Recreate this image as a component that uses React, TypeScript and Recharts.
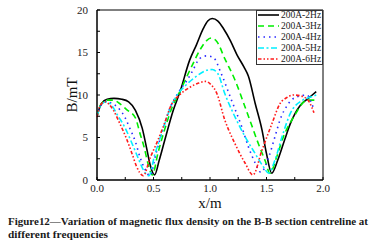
import React from 'react';
import { LineChart, Line, XAxis, YAxis, Legend, ReferenceArea } from 'recharts';

const FONT = '"Liberation Serif", "Times New Roman", serif';

// x positions (m) and flux density (mT), one pair per frequency
const x2Hz = [0, 0.04, 0.09, 0.15, 0.22, 0.28, 0.34, 0.4, 0.44, 0.47, 0.51, 0.55, 0.6, 0.675, 0.735, 0.82, 0.88, 0.94, 0.98, 1.02, 1.07, 1.12, 1.18, 1.24, 1.3, 1.34, 1.4, 1.46, 1.5, 1.546, 1.6, 1.66, 1.71, 1.8, 1.87, 1.94];
const b2Hz = [7.6, 9.0, 9.5, 9.6, 9.5, 9.2, 8.2, 6.1, 3.7, 1.8, 0.6, 2.3, 4.7, 8.2, 10.4, 14.1, 15.9, 17.8, 18.7, 19.0, 18.7, 17.8, 16.4, 14.7, 13.3, 12.2, 9.0, 5.9, 3.1, 0.8, 2.35, 4.7, 6.6, 8.8, 9.6, 10.4];

const x3Hz = [0, 0.04, 0.09, 0.14, 0.2, 0.26, 0.34, 0.38, 0.42, 0.45, 0.49, 0.54, 0.6, 0.66, 0.73, 0.8, 0.85, 0.92, 0.97, 1.01, 1.06, 1.13, 1.22, 1.31, 1.37, 1.43, 1.49, 1.53, 1.59, 1.65, 1.74, 1.86, 1.94];
const b3Hz = [7.5, 9.0, 9.4, 9.4, 9.0, 8.3, 7.3, 5.5, 3.7, 2.0, 0.6, 3.2, 6.0, 8.4, 10.3, 12.3, 13.7, 15.5, 16.4, 16.7, 16.3, 14.3, 11.8, 8.6, 6.4, 4.2, 2.2, 0.8, 2.7, 5.1, 7.4, 9.4, 9.4];

const x4Hz = [0, 0.04, 0.08, 0.12, 0.16, 0.25, 0.29, 0.34, 0.38, 0.42, 0.47, 0.52, 0.58, 0.65, 0.72, 0.8, 0.84, 0.91, 0.97, 1.03, 1.1, 1.19, 1.28, 1.34, 1.4, 1.45, 1.52, 1.575, 1.63, 1.68, 1.72, 1.8, 1.86, 1.89, 1.92];
const b4Hz = [7.5, 8.9, 9.2, 9.1, 8.8, 7.3, 6.1, 4.5, 2.7, 1.4, 0.5, 3.0, 5.8, 8.6, 10.3, 11.8, 12.7, 14.3, 14.6, 14.4, 12.5, 9.4, 6.3, 3.9, 2.0, 0.9, 2.7, 5.1, 7.45, 8.7, 9.4, 9.9, 10.0, 9.3, 8.3];

const x5Hz = [0, 0.04, 0.08, 0.115, 0.19, 0.25, 0.31, 0.365, 0.41, 0.46, 0.51, 0.58, 0.65, 0.72, 0.79, 0.89, 0.97, 1.02, 1.07, 1.13, 1.22, 1.31, 1.4, 1.47, 1.52, 1.575, 1.64, 1.71, 1.82, 1.88, 1.94];
const b5Hz = [7.5, 8.9, 9.2, 9.0, 7.45, 6.1, 4.3, 2.55, 1.2, 0.5, 2.9, 5.8, 8.5, 10.2, 11.2, 12.3, 12.9, 13.0, 12.5, 10.2, 7.45, 5.1, 3.1, 1.6, 0.8, 2.35, 5.2, 7.8, 9.4, 9.7, 10.0];

const x6Hz = [0, 0.03, 0.07, 0.145, 0.2, 0.26, 0.31, 0.35, 0.41, 0.47, 0.53, 0.59, 0.66, 0.73, 0.82, 0.9, 0.96, 1.01, 1.06, 1.13, 1.22, 1.31, 1.38, 1.46, 1.55, 1.62, 1.68, 1.74, 1.8, 1.86, 1.9, 1.92];
const b6Hz = [7.4, 8.8, 9.2, 8.2, 6.7, 4.9, 3.1, 1.6, 0.5, 2.6, 4.4, 6.4, 8.9, 10.0, 10.9, 11.4, 11.6, 11.2, 10.2, 7.1, 4.3, 2.0, 0.6, 3.5, 6.7, 9.0, 9.7, 10.0, 9.9, 9.5, 8.6, 7.9];

const xTicks = [0, 0.25, 0.5, 0.75, 1, 1.25, 1.5, 1.75, 2];
const yTicks = [0, 2.5, 5, 7.5, 10, 12.5, 15, 17.5, 20];

const toPoints = (xs: number[], ys: number[]) => xs.map((x, i) => ({ x, y: ys[i] }));

const series = [
  { name: '200A-2Hz', data: toPoints(x2Hz, b2Hz), color: '#000000', dash: undefined },
  { name: '200A-3Hz', data: toPoints(x3Hz, b3Hz), color: '#00ee00', dash: '6 4' },
  { name: '200A-4Hz', data: toPoints(x4Hz, b4Hz), color: '#2a2aff', dash: '1.5 4' },
  { name: '200A-5Hz', data: toPoints(x5Hz, b5Hz), color: '#00f0ff', dash: '6 2.5 2 2.5' },
  { name: '200A-6Hz', data: toPoints(x6Hz, b6Hz), color: '#ff1a1a', dash: '3.5 2 1.5 2 1.5 2' },
];

function FreqLegend() {
  return (
    <div style={{ width: 67, height: 55, border: '1px solid #333', boxSizing: 'border-box', background: '#fff' }}>
      <svg width={65} height={53} style={{ display: 'block' }}>
        {series.map((s, i) => {
          const y = 4 + i * 11;
          return (
            <g key={s.name}>
              <line x1={1} x2={22} y1={y} y2={y} stroke={s.color} strokeWidth={1.6} strokeDasharray={s.dash} />
              <text x={24} y={y} dominantBaseline="central" fontSize={9.5} fontFamily={FONT} fill="#222">
                {s.name}
              </text>
            </g>
          );
        })}
      </svg>
    </div>
  );
}

export default function App() {
  return (
    <div style={{ position: 'relative', width: 385, height: 248, background: '#fff' }}>
      <style>{'body{margin:0}'}</style>
      <LineChart width={385} height={216} margin={{ top: 10, right: 62, left: 0, bottom: 6 }}>
        <XAxis
          type="number"
          dataKey="x"
          domain={[0, 2]}
          ticks={xTicks}
          interval={0}
          tickSize={-3}
          tickMargin={7}
          height={30}
          stroke="#000"
          tick={{ fill: '#222', fontSize: 11, fontFamily: FONT }}
          tickFormatter={(v: number) => (v % 0.5 === 0 ? v.toFixed(1) : '')}
          label={{ value: 'x/m', position: 'insideBottom', offset: 2, style: { fontSize: 15, fill: '#111', fontFamily: FONT } }}
        />
        <YAxis
          type="number"
          domain={[0, 20]}
          ticks={yTicks}
          interval={0}
          tickSize={-3}
          tickMargin={12}
          width={97}
          stroke="#000"
          tick={{ fill: '#222', fontSize: 11, fontFamily: FONT }}
          tickFormatter={(v: number) => (v % 5 === 0 ? String(v) : '')}
          label={{ value: 'B/mT', angle: -90, position: 'insideLeft', offset: 72, style: { textAnchor: 'middle', fontSize: 15, fill: '#111', fontFamily: FONT } }}
        />
        <ReferenceArea x1={0} x2={2} y1={0} y2={20} fill="none" stroke="#000" strokeWidth={1} />
        {series.map((s) => (
          <Line
            key={s.name}
            name={s.name}
            data={s.data}
            dataKey="y"
            type="monotone"
            stroke={s.color}
            strokeWidth={1.6}
            strokeDasharray={s.dash}
            dot={false}
            isAnimationActive={false}
          />
        ))}
        <Legend
          layout="vertical"
          align="center"
          verticalAlign="middle"
          content={() => <FreqLegend />}
          wrapperStyle={{ position: 'absolute', top: 10, left: 256, width: 67, height: 55 }}
        />
      </LineChart>
      <svg width={385} height={34} style={{ position: 'absolute', left: 0, top: 214, pointerEvents: 'none' }}>
        <text x={8} y={11} fontFamily={FONT} fontWeight="bold" fontSize={11} fill="#1a1a1a" textLength={360} lengthAdjust="spacingAndGlyphs">
          Figure12—Variation of magnetic flux density on the B-B section centreline at
        </text>
        <text x={8} y={24} fontFamily={FONT} fontWeight="bold" fontSize={11} fill="#1a1a1a" textLength={100} lengthAdjust="spacingAndGlyphs">
          different frequencies
        </text>
      </svg>
    </div>
  );
}
